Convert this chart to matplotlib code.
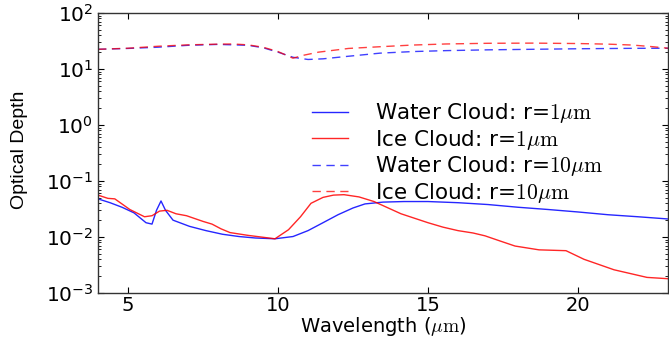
import matplotlib
matplotlib.use("Agg")
import matplotlib.pyplot as plt
import numpy as np

plt.rcParams['mathtext.fontset'] = 'cm'

# wavelength grid (um) and optical depth, small particles
wl_water_1 = [4.0, 4.4, 4.8, 5.2, 5.6, 5.8, 5.95, 6.1, 6.25, 6.5, 7.05, 7.6, 8.15, 8.7, 9.25, 9.9,
              10.5, 11.0, 11.5, 12.0, 12.5, 12.9, 13.5, 14.2, 15.0, 16.0, 17.0, 18.0, 19.0, 20.0,
              21.0, 22.0, 23.0]
tau_water_1 = [0.048, 0.041, 0.034, 0.027, 0.018, 0.017, 0.030, 0.044, 0.030, 0.020, 0.0155, 0.0130,
               0.0112, 0.0102, 0.0096, 0.0093, 0.0102, 0.0130, 0.018, 0.025, 0.033, 0.039, 0.042,
               0.043, 0.043, 0.041, 0.038, 0.034, 0.031, 0.028, 0.025, 0.023, 0.021]

wl_ice_1 = [4.0, 4.33, 4.56, 5.06, 5.55, 5.8, 6.05, 6.3, 6.6, 6.95, 7.5, 7.8, 8.1, 8.4, 9.0, 9.9,
            10.35, 10.75, 11.1, 11.5, 11.85, 12.2, 12.7, 13.2, 14.1, 15.0, 15.5, 16.0, 16.5, 16.9,
            17.4, 17.9, 18.7, 19.6, 20.2, 21.2, 22.3, 23.0]
tau_ice_1 = [0.056, 0.049, 0.048, 0.031, 0.023, 0.024, 0.029, 0.030, 0.026, 0.024, 0.019, 0.017,
             0.0140, 0.0120, 0.0107, 0.0093, 0.0135, 0.023, 0.040, 0.051, 0.056, 0.057, 0.052, 0.043,
             0.026, 0.018, 0.0150, 0.0130, 0.0118, 0.0105, 0.0085, 0.0069, 0.0059, 0.0057, 0.0040,
             0.0026, 0.0019, 0.0018]

# large particles
wl_water_10 = [4.0, 5.0, 6.0, 7.0, 8.0, 9.0, 9.5, 10.0, 10.5, 11.0, 11.5, 12.3, 13.4, 14.5, 15.6,
               17.0, 18.5, 20.0, 21.8, 23.0]
tau_water_10 = [22.5, 23.3, 24.5, 26.5, 27.5, 26.5, 24.0, 20.0, 16.2, 14.8, 15.2, 16.8, 19.2, 20.5,
                21.3, 22.0, 22.5, 23.0, 23.4, 23.5]

wl_ice_10 = [4.0, 5.0, 6.0, 7.0, 8.0, 8.5, 9.0, 9.5, 10.0, 10.5, 10.85, 11.35, 12.35, 13.4, 14.5,
             15.6, 17.0, 18.5, 20.0, 21.0, 21.8, 22.5, 23.0]
tau_ice_10 = [22.5, 23.5, 25.5, 27.0, 27.8, 28.0, 27.0, 24.5, 20.5, 15.6, 17.6, 20.0, 23.3, 25.0,
              26.8, 28.0, 28.8, 29.0, 28.5, 27.8, 26.8, 25.0, 23.5]

labels = [r'Water Cloud: r=$1\mu\mathrm{m}$',
          r'Ice Cloud: r=$1\mu\mathrm{m}$',
          r'Water Cloud: r=$10\mu\mathrm{m}$',
          r'Ice Cloud: r=$10\mu\mathrm{m}$']

fig = plt.figure(figsize=(6.69, 3.38), dpi=100)
ax = fig.add_axes([0.1465, 0.1331, 0.852, 0.8284])

ax.plot(wl_water_1, tau_water_1, color='b', lw=1.0, alpha=0.85, label=labels[0])
ax.plot(wl_ice_1, tau_ice_1, color='r', lw=1.0, alpha=0.85, label=labels[1])
ax.plot(wl_water_10, tau_water_10, color='b', lw=1.0, alpha=0.75, dashes=(6, 4), label=labels[2])
ax.plot(wl_ice_10, tau_ice_10, color='r', lw=1.0, alpha=0.75, dashes=(6, 4), label=labels[3])

ax.set_yscale('log')
ax.set_xlim(4, 23)
ax.set_ylim(1e-3, 1e2)
ax.set_xticks([5, 10, 15, 20])

ax.tick_params(which='both', direction='in', top=True, right=True, labelsize=14.5)
ax.tick_params(axis='x', labelsize=14, pad=2)
ax.tick_params(which='major', length=4, width=0.8)
ax.tick_params(which='minor', length=2, width=0.6)
for s in ax.spines.values():
    s.set_color('#333333')
    s.set_linewidth(1.0)

ax.set_xlabel(r'Wavelength ($\mu\mathrm{m}$)', fontsize=14, labelpad=0)
ax.set_ylabel('Optical Depth', fontsize=14, family=['Liberation Sans', 'DejaVu Sans'])
ax.yaxis.set_label_coords(-0.123, 0.51)

ax.legend(loc='center left', bbox_to_anchor=(0.375, 0.50), frameon=False,
          fontsize=15.5, handlelength=1.7, handletextpad=1.25, labelspacing=0.12,
          borderpad=0, borderaxespad=0)

fig.savefig('out.png', dpi=100)
